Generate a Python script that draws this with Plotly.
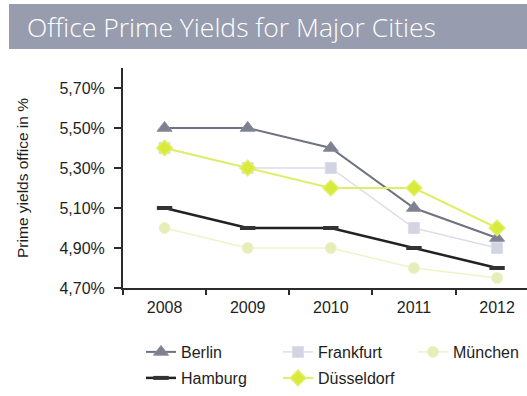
import plotly.graph_objects as go

# Office prime yields (%) by city and year
years = ["2008", "2009", "2010", "2011", "2012"]
berlin = [5.50, 5.50, 5.40, 5.10, 4.95]
frankfurt = [5.40, 5.30, 5.30, 5.00, 4.90]
muenchen = [5.00, 4.90, 4.90, 4.80, 4.75]
hamburg = [5.10, 5.00, 5.00, 4.90, 4.80]
duesseldorf = [5.40, 5.30, 5.20, 5.20, 5.00]

y_ticks = [4.70, 4.90, 5.10, 5.30, 5.50, 5.70]
y_tick_labels = ["4,70%", "4,90%", "5,10%", "5,30%", "5,50%", "5,70%"]

W, H = 527, 396
L, R, T, B = 123, 0, 68, 108
PW, PH = W - L - R, H - T - B

FONT = "Liberation Sans, Arial, sans-serif"
TXT = "#1e1e1e"

fig = go.Figure()

fig.add_trace(go.Scatter(
    x=years, y=muenchen, name="München", mode="lines+markers",
    line=dict(color="#eef3c9", width=1.5),
    marker=dict(symbol="circle", size=11, color="#e6edb8", line=dict(color="#eef2cc", width=1)),
    legend="legend3",
))
fig.add_trace(go.Scatter(
    x=years, y=frankfurt, name="Frankfurt", mode="lines+markers",
    line=dict(color="#dcdde8", width=1.5),
    marker=dict(symbol="square", size=11, color="#d3d4e2", line=dict(color="#dcdde8", width=1)),
    legend="legend", legendrank=2,
))
fig.add_trace(go.Scatter(
    x=years, y=hamburg, name="Hamburg", mode="lines+markers",
    line=dict(color="#222222", width=2.5),
    marker=dict(symbol="line-ew", size=11, color="#333333", line=dict(color="#333333", width=4)),
    legend="legend2", legendrank=1,
))
fig.add_trace(go.Scatter(
    x=years, y=berlin, name="Berlin", mode="lines+markers",
    line=dict(color="#6f7280", width=2),
    marker=dict(symbol="triangle-up", size=13, color="#7d808e", line=dict(color="#8a8d9a", width=1)),
    legend="legend", legendrank=1,
))
fig.add_trace(go.Scatter(
    x=years, y=duesseldorf, name="Düsseldorf", mode="lines+markers",
    line=dict(color="#e0ee66", width=2),
    marker=dict(symbol="diamond", size=12, color="#d8eb3a", line=dict(color="#e2ef6a", width=1.5)),
    legend="legend2", legendrank=2,
))

# Title banner across the top
fig.add_shape(
    type="rect", xref="paper", yref="paper",
    x0=(9 - L) / PW, x1=1.0,
    y0=(H - B - 49) / PH, y1=(H - B - 4) / PH,
    fillcolor="#979cae", line=dict(width=0), layer="below",
)
fig.add_annotation(
    text="Office Prime Yields for Major Cities",
    xref="paper", yref="paper",
    x=(25 - L) / PW, y=(H - B - 27) / PH,
    xanchor="left", yanchor="middle", showarrow=False,
    font=dict(family="Open Sans, sans-serif", size=26.5, color="#ffffff", weight=300),
)

legend_common = dict(
    orientation="h", xref="container", yref="container",
    xanchor="left", yanchor="middle",
    entrywidth=92, entrywidthmode="pixels",
    font=dict(family=FONT, size=16, color=TXT),
    bgcolor="rgba(0,0,0,0)", traceorder="normal",
)

fig.update_layout(
    width=W, height=H,
    margin=dict(l=L, r=R, t=T, b=B),
    paper_bgcolor="white", plot_bgcolor="white",
    font=dict(family=FONT, size=16, color=TXT),
    showlegend=True,
    legend=dict(x=141 / W, y=1 - 352 / H, **legend_common),
    legend2=dict(x=141 / W, y=1 - 378 / H, **legend_common),
    legend3=dict(x=413 / W, y=1 - 352 / H, **legend_common),
    xaxis=dict(
        type="category", range=[-0.5, 4.36],
        showline=True, linecolor="#2b2b2b", linewidth=2,
        ticks="outside", ticklen=5, tickwidth=1.5, tickcolor="#2b2b2b",
        ticklabelstandoff=4,
        tickson="boundaries", showgrid=False, zeroline=False,
        tickfont=dict(family=FONT, size=16, color=TXT),
    ),
    yaxis=dict(
        range=[4.70, 5.80],
        tickvals=y_ticks, ticktext=y_tick_labels,
        showline=True, linecolor="#2b2b2b", linewidth=2,
        ticks="outside", ticklen=7, tickwidth=1.5, tickcolor="#2b2b2b",
        ticklabelstandoff=6,
        showgrid=False, zeroline=False,
        tickfont=dict(family=FONT, size=16, color=TXT),
        title=dict(text="Prime yields office in %", standoff=27,
                   font=dict(family=FONT, size=15.5, color=TXT)),
    ),
)

fig.write_html("out.html")
